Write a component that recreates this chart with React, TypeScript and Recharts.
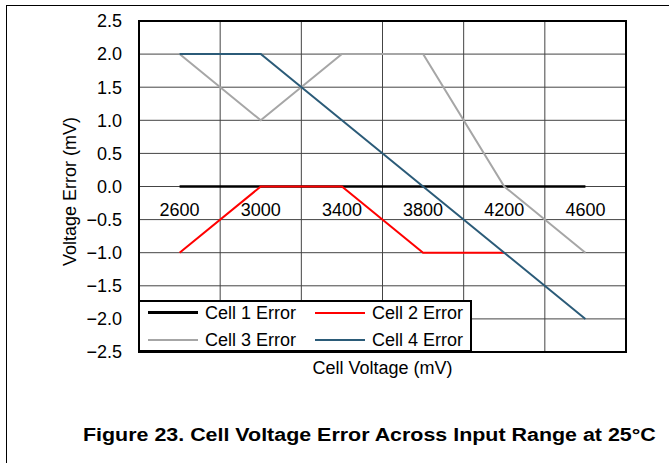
import { LineChart, Line, XAxis, YAxis, CartesianGrid, ReferenceArea, ReferenceDot } from 'recharts';

const voltages = [2600, 3000, 3400, 3800, 4200, 4600];
const cell1Error = [0, 0, 0, 0, 0, 0];
const cell2Error = [-1, 0, 0, -1, -1, null];
const cell3Error = [2, 1, 2, 2, 0, -1];
const cell4Error = [2, 2, 1, 0, -1, -2];

const labelVoltages = [2600, 3000, 3400, 3800, 4200, 4600];
const gridVoltages = [2400, 2800, 3200, 3600, 4000, 4400, 4800];
const errorTicks = [-2.5, -2, -1.5, -1, -0.5, 0, 0.5, 1, 1.5, 2, 2.5];

const series = [
  { key: 'cell1', name: 'Cell 1 Error', color: '#000000', width: 2.5 },
  { key: 'cell2', name: 'Cell 2 Error', color: '#ff0000', width: 2 },
  { key: 'cell3', name: 'Cell 3 Error', color: '#a6a6a6', width: 2 },
  { key: 'cell4', name: 'Cell 4 Error', color: '#2b5b78', width: 2 },
];

const data = voltages.map((v, i) => ({
  voltage: v,
  cell1: cell1Error[i],
  cell2: cell2Error[i],
  cell3: cell3Error[i],
  cell4: cell4Error[i],
}));

const fmtError = (v: number) => (v < 0 ? '\u2212' : '') + Math.abs(v).toFixed(1);

function LegendBox() {
  return (
    <div
      style={{
        position: 'absolute', left: 138, top: 300, width: 334, height: 52,
        boxSizing: 'border-box', border: '2px solid #000', background: '#fff',
        display: 'grid', gridTemplateColumns: '167px 163px', alignContent: 'center',
        rowGap: 5, fontSize: 18, lineHeight: '22px',
      }}
    >
      {series.map((s) => (
        <div key={s.key} style={{ display: 'flex', alignItems: 'center', height: 22 }}>
          <span style={{ display: 'inline-block', width: 50, marginLeft: 8, height: s.width, background: s.color }} />
          <span style={{ marginLeft: 7, whiteSpace: 'nowrap' }}>{s.name}</span>
        </div>
      ))}
    </div>
  );
}

export default function App() {
  return (
    <div
      style={{
        position: 'absolute', left: 0, top: 0, width: 669, height: 463, overflow: 'hidden',
        background: '#fff', fontFamily: '"Liberation Sans", Arial, sans-serif', color: '#000',
      }}
    >
      <div style={{ position: 'absolute', left: 6, top: 5, width: 700, height: 500, borderTop: '1px solid #000', borderLeft: '1px solid #000' }} />
      <div style={{ position: 'absolute', left: 0, top: 0 }}>
        <LineChart width={669} height={400} data={data} margin={{ top: 21, right: 43, left: 0, bottom: 18 }}>
          <CartesianGrid stroke="#444" strokeWidth={1} />
          <XAxis
            dataKey="voltage" type="number" domain={[2400, 4800]} ticks={gridVoltages}
            tick={() => <g />} tickLine={false} axisLine={false} height={30}
            label={{ value: 'Cell Voltage (mV)', position: 'insideTop', offset: 9, fill: '#000', fontSize: 18 }}
          />
          <YAxis
            type="number" domain={[-2.5, 2.5]} ticks={errorTicks} width={139}
            tickFormatter={fmtError} tickLine={false} axisLine={false} tickMargin={11}
            tick={{ fill: '#000', fontSize: 18 }}
            label={{ value: 'Voltage Error (mV)', angle: -90, position: 'insideLeft', offset: 70, dy: 5, fill: '#000', fontSize: 18, style: { textAnchor: 'middle' } }}
          />
          <ReferenceArea x1={2400} x2={4800} y1={-2.5} y2={2.5} fill="none" stroke="#000" strokeWidth={2} />
          {series.map((s) => (
            <Line
              key={s.key} type="linear" dataKey={s.key} name={s.name} stroke={s.color}
              strokeWidth={s.width} dot={false} activeDot={false} isAnimationActive={false}
            />
          ))}
          {labelVoltages.map((v) => (
            <ReferenceDot
              key={v} x={v} y={0} r={0} fill="none" stroke="none"
              label={{ value: String(v), position: 'bottom', offset: 17, fill: '#000', fontSize: 18 }}
            />
          ))}
        </LineChart>
      </div>
      <LegendBox />
      <div
        style={{
          position: 'absolute', left: 83, top: 426, fontSize: 18, lineHeight: '18px', fontWeight: 'bold',
          whiteSpace: 'nowrap', transform: 'scaleX(1.19)', transformOrigin: 'left top',
        }}
      >
        Figure 23. Cell Voltage Error Across Input Range at 25°C
      </div>
    </div>
  );
}
